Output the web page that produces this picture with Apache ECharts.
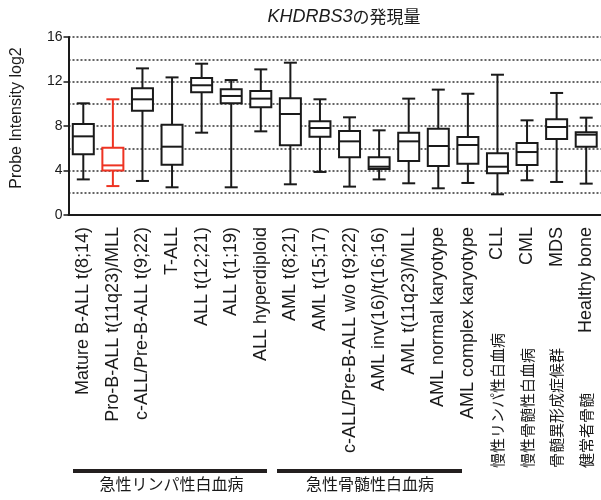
<!DOCTYPE html>
<html>
<head>
<meta charset="utf-8">
<script src="https://cdn.jsdelivr.net/npm/echarts@6/dist/echarts.min.js"></script>
<style>html,body{margin:0;padding:0;background:#fff}#c{width:601px;height:500px}</style>
</head>
<body>
<div id="c"></div>
<script>
var categories = ['Mature B-ALL t(8;14)','Pro-B-ALL t(11q23)/MLL','c-ALL/Pre-B-ALL t(9;22)','T-ALL','ALL t(12;21)','ALL t(1;19)','ALL hyperdiploid','AML t(8;21)','AML t(15;17)','c-ALL/Pre-B-ALL w/o t(9;22)','AML inv(16)/t(16;16)','AML t(11q23)/MLL','AML normal karyotype','AML complex karyotype','CLL','CML','MDS','Healthy bone'];
var subLabels = ['','','','','','','','','','','','','','','慢性リンパ性白血病','慢性骨髄性白血病','骨髄異形成症候群','健常者骨髄'];
var mins    = [3.2, 2.6, 3.06, 2.49, 7.4, 2.49, 7.52, 2.76, 3.87, 2.55, 3.2, 2.85, 2.4, 2.88, 1.86, 3.12, 2.97, 2.82];
var q1s     = [5.45, 4.0, 9.38, 4.52, 11.03, 10.04, 9.68, 6.26, 7.04, 5.18, 4.13, 4.85, 4.4, 4.61, 3.75, 4.49, 6.83, 6.14];
var medians = [7.07, 4.46, 10.4, 6.14, 11.66, 10.7, 10.46, 9.08, 7.82, 6.62, 4.34, 6.62, 6.2, 6.29, 4.34, 5.66, 7.91, 7.22];
var q3s     = [8.18, 6.05, 11.4, 8.12, 12.31, 11.3, 11.15, 10.49, 8.42, 7.55, 5.18, 7.4, 7.76, 7.01, 5.54, 6.47, 8.6, 7.43];
var maxs    = [10.04, 10.4, 13.18, 12.37, 13.6, 12.13, 13.09, 13.69, 10.4, 8.78, 7.61, 10.46, 11.27, 10.9, 12.61, 8.51, 10.97, 8.75];
var highlighted = [1];
var groupNames = ['急性リンパ性白血病','急性骨髄性白血病'];
var titleMain = 'KHDRBS3';
var titleSub = 'の発現量';
var yName = 'Probe Intensity log2';

var data = categories.map(function(c, i){
  return [i, mins[i], q1s[i], medians[i], q3s[i], maxs[i]];
});

var chart = echarts.init(document.getElementById('c'), null, {renderer:'canvas'});
var FONT = '"Liberation Sans", Arial, sans-serif';
var JFONT = '"Noto Sans CJK JP", sans-serif';

function renderItem(params, api){
  var idx = api.value(0);
  var pMin = api.coord([idx, api.value(1)]);
  var pQ1 = api.coord([idx, api.value(2)]);
  var pMed = api.coord([idx, api.value(3)]);
  var pQ3 = api.coord([idx, api.value(4)]);
  var pMax = api.coord([idx, api.value(5)]);
  var x = pMed[0];
  var bw = 21, cw = 13;
  var color = highlighted.indexOf(idx) >= 0 ? '#ee3322' : '#1a1a1a';
  var st = {stroke: color, lineWidth: 2, fill: null};
  return {
    type: 'group',
    children: [
      {type:'line', shape:{x1:x, y1:pQ3[1], x2:x, y2:pMax[1]}, style:st},
      {type:'line', shape:{x1:x, y1:pQ1[1], x2:x, y2:pMin[1]}, style:st},
      {type:'line', shape:{x1:x-cw/2, y1:pMax[1], x2:x+cw/2, y2:pMax[1]}, style:st},
      {type:'line', shape:{x1:x-cw/2, y1:pMin[1], x2:x+cw/2, y2:pMin[1]}, style:st},
      {type:'rect', shape:{x:x-bw/2, y:pQ3[1], width:bw, height:pQ1[1]-pQ3[1]}, style:{stroke:color, lineWidth:2, fill:'#fff'}},
      {type:'line', shape:{x1:x-bw/2, y1:pMed[1], x2:x+bw/2, y2:pMed[1]}, style:st}
    ]
  };
}

var option = {
  animation: false,
  backgroundColor: '#fff',
  title: {
    text: '{i|' + titleMain + '}{n|' + titleSub + '}',
    left: 339, top: 3, textAlign: 'center',
    textStyle: {
      fontWeight: 'normal',
      rich: {
        i: {fontFamily: FONT, fontStyle: 'italic', fontWeight: 'normal', fontSize: 18, color: '#1a1a1a'},
        n: {fontFamily: JFONT, fontWeight: 'normal', fontSize: 17, color: '#1a1a1a'}
      }
    }
  },
  grid: {left: 68.5, right: 0, top: 37, bottom: 285, containLabel: false},
  xAxis: {
    type: 'category',
    data: categories,
    boundaryGap: true,
    axisLine: {lineStyle: {color: '#1a1a1a', width: 2}},
    axisTick: {alignWithLabel: true, length: 5, lineStyle: {color: '#1a1a1a', width: 1.5}},
    axisLabel: {
      interval: 0, rotate: 90, margin: 12,
      fontFamily: FONT, fontSize: 18, color: '#1a1a1a',
      formatter: function(v, i){
        if (subLabels[i]) return '{j|' + subLabels[i] + '}{e|' + v + '}';
        return v;
      },
      rich: {
        j: {fontFamily: JFONT, fontSize: 15, width: 131, align: 'left', color: '#1a1a1a'},
        e: {fontFamily: FONT, fontSize: 18, width: 110, align: 'right', color: '#1a1a1a'}
      }
    },
    splitLine: {show: false}
  },
  yAxis: {
    type: 'value', min: 0, max: 16, interval: 4,
    axisLine: {show: true, lineStyle: {color: '#1a1a1a', width: 2}},
    axisTick: {show: true, length: 5, lineStyle: {color: '#1a1a1a', width: 1.5}},
    axisLabel: {fontFamily: FONT, fontSize: 14, color: '#1a1a1a', margin: 6},
    splitLine: {show: true, lineStyle: {color: '#333', width: 1.5, type: [2, 2]}},
    minorTick: {show: false, splitNumber: 2},
    minorSplitLine: {show: true, lineStyle: {color: '#333', width: 1.5, type: [2, 2]}}
  },
  series: [{
    type: 'custom',
    renderItem: renderItem,
    encode: {x: 0, y: [1, 2, 3, 4, 5]},
    data: data,
    z: 10
  }],
  graphic: [
    {type: 'text', x: 17, y: 118, rotation: Math.PI/2, style: {text: yName, fontFamily: FONT, fontSize: 16, fill: '#1a1a1a', align: 'center', verticalAlign: 'middle'}},
    {type: 'line', shape: {x1: 73, y1: 471, x2: 267, y2: 471}, style: {stroke: '#231f1f', lineWidth: 4}},
    {type: 'line', shape: {x1: 277, y1: 471, x2: 462, y2: 471}, style: {stroke: '#231f1f', lineWidth: 4}},
    {type: 'text', x: 171.5, y: 484, style: {text: groupNames[0], fontFamily: JFONT, fontSize: 16, fill: '#1a1a1a', align: 'center', verticalAlign: 'middle'}},
    {type: 'text', x: 370, y: 484, style: {text: groupNames[1], fontFamily: JFONT, fontSize: 16, fill: '#1a1a1a', align: 'center', verticalAlign: 'middle'}}
  ]
};
chart.setOption(option);
</script>
</body>
</html>
